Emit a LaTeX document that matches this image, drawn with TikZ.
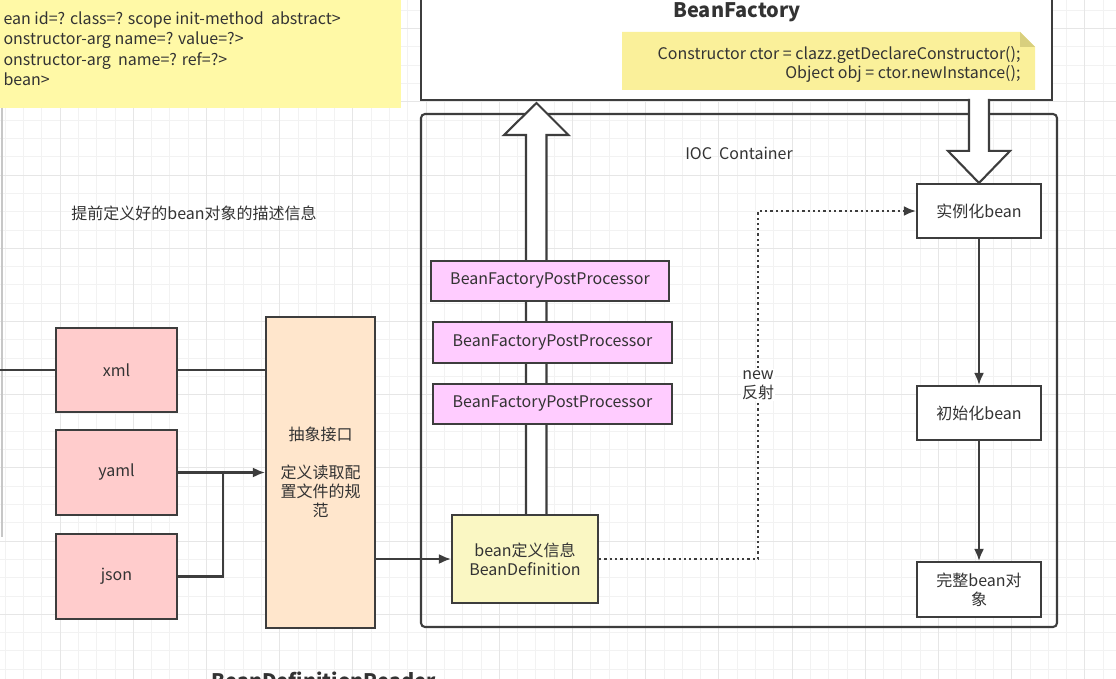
\documentclass[tikz,border=0pt]{standalone}
\usepackage{fontspec}
\setmainfont{Noto Sans CJK SC}
\usepackage{tikz}
\usetikzlibrary{arrows.meta,calc}
\definecolor{edge}{HTML}{3D3D3D}
\definecolor{txt}{HTML}{333333}
\definecolor{notea}{HTML}{FFF9A6}
\definecolor{noteb}{HTML}{FAF09A}
\definecolor{foldc}{HTML}{D8CF7E}
\definecolor{redbox}{HTML}{FFCCCC}
\definecolor{peach}{HTML}{FFE6CC}
\definecolor{pinkbox}{HTML}{FFCCFF}
\definecolor{defyel}{HTML}{FAF7C3}
\definecolor{gridmin}{HTML}{F2F2F2}
\definecolor{gridmaj}{HTML}{E6E6E6}

\begin{document}
\begin{tikzpicture}[x=1pt,y=-1pt,
  every node/.style={font=\fontsize{16}{19}\selectfont, text=txt},
  box/.style={draw=edge, line width=2.1pt, inner sep=2pt},
  link/.style={draw=edge, line width=2.1pt},
  arr/.style={link, -{Latex[length=12pt,width=10pt]}},
  dotline/.style={draw=edge, line width=2.3pt, dash pattern=on 2.3pt off 3pt, -{Latex[length=12pt,width=10pt]}},
  hollow/.style={draw=edge, line width=2.1pt, fill=white, line join=miter},
  minor/.style={draw=gridmin, line width=0.8pt},
  major/.style={draw=gridmaj, line width=0.9pt},
  title/.style={font=\bfseries\fontsize{20}{24}\selectfont}]
\useasboundingbox (0,0) rectangle (1116,679);
\fill[white] (0,0) rectangle (1116,679);
\foreach \i in {0,...,60} \draw[minor] ({5.1+18.3*\i},0) -- ++(0,679);
\foreach \j in {0,...,36} \draw[minor] (0,{10.3+18.3*\j}) -- ++(1116,0);
\foreach \i in {0,...,14} \draw[major] ({60+73.2*\i},0) -- ++(0,679);
\foreach \j in {0,...,9} \draw[major] (0,{28.6+73.2*\j}) -- ++(1116,0);

\fill[notea] (0,0) rectangle (401,108);
\node[anchor=north west, align=left, font=\fontsize{16}{20.5}\selectfont] (xmlnote) at (0,8) {ean id=? class=? scope init-method\ \ abstract>\\onstructor-arg name=? value=?>\\onstructor-arg\ \ name=? ref=?>\\bean>};
\draw[draw=black!22, line width=2pt] (2,108) -- (2,537);

\node[box, fill=white, minimum width=631, minimum height=112] (factory) at (736.5,44) {};
\node[title] (factorytitle) at (737,12) {BeanFactory};
\fill[noteb] (622,32) -- (1020,32) -- (1035,47) -- (1035,90) -- (622,90) -- cycle;
\fill[foldc] (1020,32) -- (1020,47) -- (1035,47) -- cycle;
\node[anchor=east, align=right] (ctorcode) at (1024,64) {Constructor ctor = clazz.getDeclareConstructor();\\Object obj = ctor.newInstance();};

\node[box, rounded corners=4pt, minimum width=636, minimum height=513] (ioc) at (739,370.5) {};
\node (ioclabel) at (739,153) {IOC\ \ Container};

\node[box, fill=white, minimum width=124, minimum height=54] (inst) at (979,211) {实例化bean};
\node[box, fill=white, minimum width=124, minimum height=54] (init) at (979,413) {初始化bean};
\node[box, fill=white, minimum width=124, minimum height=55, align=center] (whole) at (979,589.5) {完整bean对\\象};
\draw[arr] (inst) -- (init);
\draw[arr] (init) -- (whole);
\draw[hollow] ($(inst.north)+(-10,-84)$) -- ++(0,52) -- ++(-21,0) -- (inst.north) -- ++(31,-32) -- ++(-21,0) -- ++(0,-52);

\coordinate (uptip) at (536.5,103);
\draw[hollow] ($(uptip)+(-10.5,412)$) -- ++(0,-380) -- ++(-22,0) -- (uptip) -- ++(32,32) -- ++(-22,0) -- ++(0,380);

\node[box, fill=pinkbox, minimum width=238, minimum height=40] (post1) at (550,281) {BeanFactoryPostProcessor};
\node[box, fill=pinkbox, minimum width=239, minimum height=41] (post2) at (552.5,342.5) {BeanFactoryPostProcessor};
\node[box, fill=pinkbox, minimum width=239, minimum height=40] (post3) at (552.5,404) {BeanFactoryPostProcessor};

\node[box, fill=defyel, minimum width=146, minimum height=88, align=center] (def) at (525,559) {bean定义信息\\BeanDefinition};
\coordinate (bend) at ($(def.east)+(159,0)$);
\draw[dotline] (def.east) -- (bend) |- node[pos=0.25, fill=white, inner sep=1pt, align=center] (newlabel) {new\\反射} (inst.west);

\node (desc) at (194,213) {提前定义好的bean对象的描述信息};

\node[box, fill=redbox, minimum width=121, minimum height=84] (xml) at (116.5,370) {xml};
\node[box, fill=redbox, minimum width=121, minimum height=85] (yaml) at (116.5,472.5) {yaml};
\node[box, fill=redbox, minimum width=121, minimum height=85] (json) at (116.5,576.5) {json};
\node[box, fill=peach, minimum width=109, minimum height=311, align=center] (reader) at (320.5,472.5) {抽象接口\\[19pt]定义读取配\\置文件的规\\范};
\coordinate (lftin) at (0,370);
\draw[link] (lftin) -- (xml.west);
\draw[link] (xml.east) -- (xml.east -| reader.west);
\draw[arr] (yaml.east) -- (yaml.east -| reader.west);
\coordinate (merge) at ($(yaml.east)+(45,0)$);
\draw[link] (json.east) -| (merge);
\draw[arr] (reader.east |- def.west) -- (def.west);

\node[anchor=west, title] (readertitle) at (208,680) {BeanDefinitionReader};
\end{tikzpicture}
\end{document}
